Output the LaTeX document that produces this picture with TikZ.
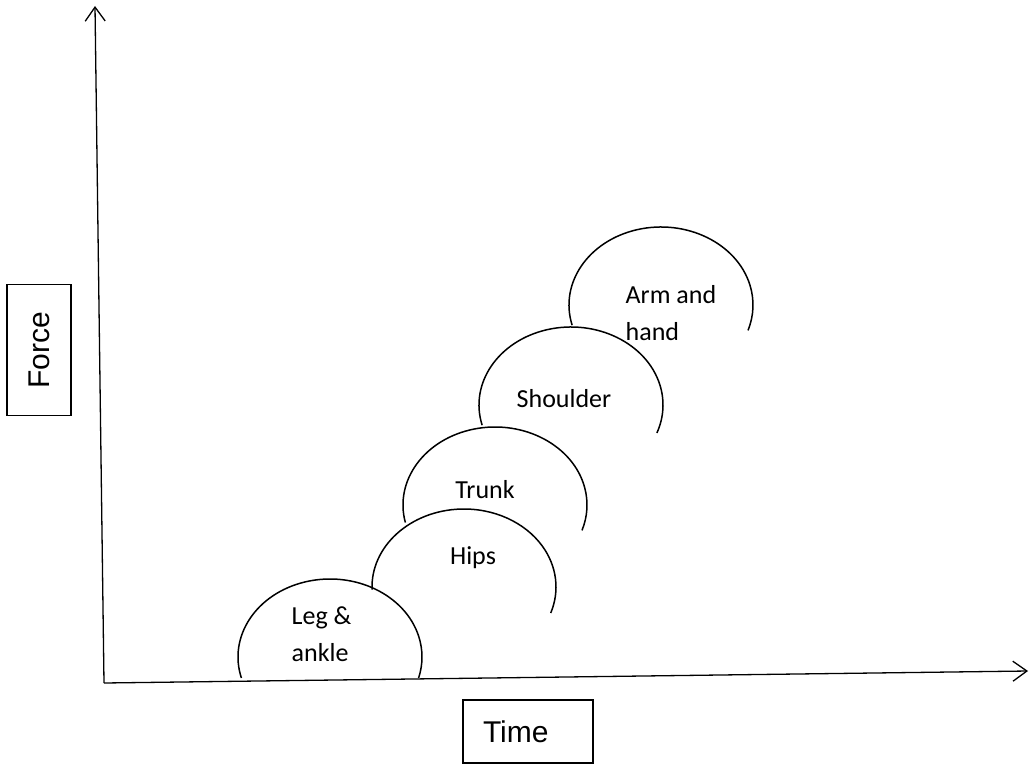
\documentclass[tikz,border=0pt]{standalone}
\usepackage{fontspec}
\setmainfont{Carlito}
\newfontfamily\arialfont{Liberation Sans}
\usetikzlibrary{arrows.meta}

\begin{document}
\begin{tikzpicture}[
  x=1pt, y=1pt, line width=1.3pt,
  >={Straight Barb[length=14pt,width=20pt]},
  part/.style  = {font=\fontsize{26}{37}\selectfont, inner sep=0pt},
  axbox/.style = {draw, font=\arialfont\fontsize{30}{36}\selectfont, inner sep=0pt},
  hump/.style  = {line width=1.5pt}
]
\useasboundingbox (0,0) rectangle (1030,-765);

% axes
\coordinate (origin) at (104,-683);
\coordinate (ytip)   at (95,-6);
\coordinate (xtip)   at (1028,-671);
\draw[->] (origin) -- (ytip);
\draw[->] (origin) -- (xtip);

\node[axbox, rotate=90, minimum width=131pt, minimum height=64pt] (force) at (39,-350) {Force};
\node[axbox, minimum height=63pt, text width=90pt, inner xsep=20pt, align=left] (time) at (528,-731.5) {Time};

% body segments
\draw[hump] (330,-657) ++(195.6:92 and 78) arc[start angle=195.6, end angle=-15.6, x radius=92, y radius=78];
\draw[hump] (464,-587) ++(182:92 and 78)   arc[start angle=182,   end angle=-19.5, x radius=92, y radius=78];
\draw[hump] (495,-505) ++(193:92 and 78)   arc[start angle=193,   end angle=-19,   x radius=92, y radius=78];
\draw[hump] (571,-405) ++(195:92 and 78)   arc[start angle=195,   end angle=-21,   x radius=92, y radius=78];
\draw[hump] (661,-305) ++(195:92 and 78)   arc[start angle=195,   end angle=-19,   x radius=92, y radius=78];

\node[part, align=left, anchor=west] (leg)      at (291,-634) {Leg \&\\ankle};
\node[part, anchor=base]             (hips)     at (473,-564) {Hips};
\node[part, anchor=base]             (trunk)    at (485,-498) {Trunk};
\node[part, anchor=base]             (shoulder) at (564,-407) {Shoulder};
\node[part, align=left, anchor=west] (arm)      at (625,-313) {Arm and\\hand};

\end{tikzpicture}
\end{document}
